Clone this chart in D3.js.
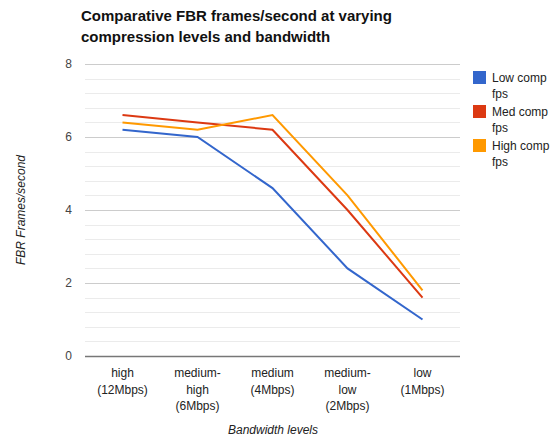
<!DOCTYPE html>
<html>
<head>
<meta charset="utf-8">
<script src="https://cdn.jsdelivr.net/npm/d3@7"></script>
<style>
  body { margin: 0; background: #fff; }
  text { font-family: "Liberation Sans", Arial, sans-serif; }
</style>
</head>
<body>
<div id="chart"></div>
<script>
// chart data
let categories = [["high", "(12Mbps)"], ["medium-", "high", "(6Mbps)"], ["medium", "(4Mbps)"], ["medium-", "low", "(2Mbps)"], ["low", "(1Mbps)"]];
let lowComp = [6.2, 6.0, 4.6, 2.4, 1.0];
let medComp = [6.6, 6.4, 6.2, 4.0, 1.6];
let highComp = [6.4, 6.2, 6.6, 4.4, 1.8];
let seriesNames = [["Low comp", "fps"], ["Med comp", "fps"], ["High comp", "fps"]];
let yTicks = [0, 2, 4, 6, 8];

let colors = ["#3366cc", "#dc3912", "#ff9900"];
let series = [lowComp, medComp, highComp];

let svg = d3.select("#chart").append("svg")
    .attr("width", 553)
    .attr("height", 438);

let plotLeft = 85, plotRight = 460, plotTop = 64, plotBottom = 356;

let x = d3.scaleBand().domain(d3.range(categories.length)).range([plotLeft, plotRight]);
let y = d3.scaleLinear().domain([0, 8]).range([plotBottom, plotTop]);

// minor gridlines
let minor = d3.range(0, 8.01, 0.4).filter(function(v){ return Math.abs(v/2 - Math.round(v/2)) > 0.01; });
svg.selectAll(".minor").data(minor).enter().append("line")
    .attr("x1", plotLeft).attr("x2", plotRight)
    .attr("y1", function(d){ return Math.round(y(d)) + 0.5; })
    .attr("y2", function(d){ return Math.round(y(d)) + 0.5; })
    .attr("stroke", "#ebebeb");

// major gridlines
svg.selectAll(".major").data(yTicks).enter().append("line")
    .attr("x1", plotLeft).attr("x2", plotRight)
    .attr("y1", function(d){ return Math.round(y(d)) + 0.5; })
    .attr("y2", function(d){ return Math.round(y(d)) + 0.5; })
    .attr("stroke", function(d){ return d == 0 ? "#777" : "#cccccc"; })
    .attr("stroke-width", function(d){ return d == 0 ? 1.5 : 1; });

// y tick labels
svg.selectAll(".ytick").data(yTicks).enter().append("text")
    .attr("x", plotLeft - 13)
    .attr("y", function(d){ return y(d) + 4; })
    .attr("text-anchor", "end")
    .attr("font-size", 12)
    .attr("fill", "#444")
    .text(function(d){ return d; });

// x labels
let xl = svg.selectAll(".xlab").data(categories).enter().append("text")
    .attr("text-anchor", "middle")
    .attr("font-size", 12)
    .attr("fill", "#222");
xl.each(function(d, i){
    d3.select(this).selectAll("tspan").data(d).enter().append("tspan")
        .attr("x", x(i) + x.bandwidth()/2)
        .attr("y", function(t, j){ return 377 + j*16.5; })
        .text(function(t){ return t; });
});

// lines
let line = d3.line()
    .x(function(d, i){ return x(i) + x.bandwidth()/2; })
    .y(function(d){ return y(d); });

svg.selectAll(".series").data(series).enter().append("path")
    .attr("d", line)
    .attr("fill", "none")
    .attr("stroke", function(d, i){ return colors[i]; })
    .attr("stroke-width", 2);

// title
let title = svg.append("text")
    .attr("font-size", 15)
    .attr("font-weight", "bold")
    .attr("fill", "#111");
title.append("tspan").attr("x", 81).attr("y", 21).text("Comparative FBR frames/second at varying");
title.append("tspan").attr("x", 81).attr("y", 42).text("compression levels and bandwidth");

// axis titles
svg.append("text")
    .attr("transform", "translate(25,210) rotate(-90)")
    .attr("text-anchor", "middle")
    .attr("font-size", 12)
    .attr("font-style", "italic")
    .attr("fill", "#222")
    .text("FBR Frames/second");

svg.append("text")
    .attr("x", 273).attr("y", 434)
    .attr("text-anchor", "middle")
    .attr("font-size", 12)
    .attr("font-style", "italic")
    .attr("fill", "#222")
    .text("Bandwidth levels");

// legend
let legend = svg.selectAll(".legend").data(seriesNames).enter().append("g")
    .attr("transform", function(d, i){ return "translate(473," + (71 + i*34) + ")"; });
legend.append("rect")
    .attr("width", 13).attr("height", 13)
    .attr("fill", function(d, i){ return colors[i]; });
legend.append("text")
    .attr("font-size", 12)
    .attr("fill", "#222")
    .each(function(d){
        d3.select(this).selectAll("tspan").data(d).enter().append("tspan")
            .attr("x", 19)
            .attr("y", function(t, j){ return 11 + j*16; })
            .text(function(t){ return t; });
    });
</script>
</body>
</html>
